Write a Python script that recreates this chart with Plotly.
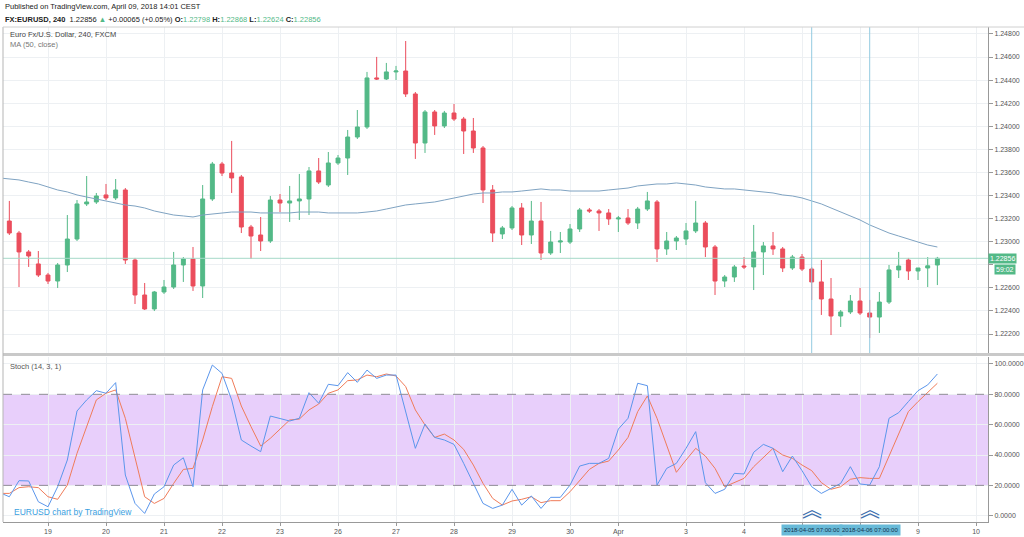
import plotly.graph_objects as go

# ---------------- data ----------------
opens = [1.23179, 1.23075, 1.22911, 1.22807, 1.22711, 1.22659, 1.22798, 1.23023, 1.23327, 1.23344,
         1.23405, 1.23379, 1.23448, 1.22841, 1.22538, 1.22417, 1.22564, 1.22607, 1.22798, 1.22850,
         1.22616, 1.23370, 1.23673, 1.23595, 1.23561, 1.23127, 1.23058, 1.23006, 1.23361, 1.23335,
         1.23353, 1.23370, 1.23613, 1.23491, 1.23682, 1.23725, 1.23907, 1.23994, 1.24419, 1.24410,
         1.24471, 1.24479, 1.24280, 1.23855, 1.24124, 1.24003, 1.24115, 1.24063, 1.23959, 1.23812,
         1.23448, 1.23067, 1.23119, 1.23292, 1.23058, 1.23179, 1.22902, 1.22997, 1.22997, 1.23110,
         1.23275, 1.23266, 1.23249, 1.23197, 1.23205, 1.23162, 1.23283, 1.23344, 1.22937, 1.23006,
         1.23023, 1.23093, 1.23162, 1.22954, 1.22659, 1.22694, 1.22789, 1.22781, 1.22911, 1.22963,
         1.22937, 1.22772, 1.22867, 1.22763, 1.22651, 1.22503, 1.22356, 1.22391, 1.22486, 1.22382,
         1.22347, 1.22477, 1.22755, 1.22841, 1.22746, 1.22772, 1.22798]
highs = [1.23353, 1.23093, 1.22928, 1.22919, 1.22729, 1.22815, 1.23231, 1.23361, 1.23569, 1.23422,
         1.23500, 1.23543, 1.23465, 1.22859, 1.22642, 1.22573, 1.22668, 1.22911, 1.22867, 1.22954,
         1.23491, 1.23691, 1.23691, 1.23873, 1.23578, 1.23145, 1.23214, 1.23396, 1.23413, 1.23483,
         1.23587, 1.23647, 1.23725, 1.23777, 1.23751, 1.23968, 1.24141, 1.24471, 1.24601, 1.24549,
         1.24523, 1.24739, 1.24297, 1.24141, 1.24141, 1.24133, 1.24193, 1.24081, 1.24072, 1.23829,
         1.23491, 1.23136, 1.23309, 1.23335, 1.23353, 1.23344, 1.23093, 1.23084, 1.23153, 1.23292,
         1.23292, 1.23283, 1.23283, 1.23223, 1.23283, 1.23301, 1.23431, 1.23361, 1.23084, 1.23049,
         1.23162, 1.23353, 1.23179, 1.22971, 1.22711, 1.22798, 1.22867, 1.23145, 1.22997, 1.23084,
         1.22954, 1.22885, 1.22893, 1.22781, 1.22841, 1.22685, 1.22408, 1.22538, 1.22599, 1.22495,
         1.22564, 1.22798, 1.22911, 1.22859, 1.22763, 1.22867, 1.22868]
lows = [1.23058, 1.22607, 1.22781, 1.22694, 1.22633, 1.22599, 1.22737, 1.23006, 1.23309, 1.23327,
        1.23361, 1.23361, 1.22807, 1.22460, 1.22408, 1.22399, 1.22547, 1.22590, 1.22651, 1.22573,
        1.22512, 1.23353, 1.23569, 1.23422, 1.23075, 1.22850, 1.22919, 1.22989, 1.23257, 1.23171,
        1.23188, 1.23231, 1.23500, 1.23474, 1.23665, 1.23578, 1.23890, 1.23977, 1.24401, 1.24401,
        1.24401, 1.24254, 1.23717, 1.23769, 1.23925, 1.23985, 1.24046, 1.23760, 1.23769, 1.23335,
        1.22997, 1.23023, 1.23101, 1.22971, 1.22980, 1.22841, 1.22885, 1.22902, 1.22980, 1.23084,
        1.23249, 1.23093, 1.23145, 1.23084, 1.23145, 1.23110, 1.23266, 1.22824, 1.22885, 1.22928,
        1.22971, 1.23075, 1.22867, 1.22538, 1.22607, 1.22651, 1.22763, 1.22581, 1.22711, 1.22885,
        1.22737, 1.22755, 1.22746, 1.22495, 1.22365, 1.22191, 1.22261, 1.22373, 1.22365, 1.22165,
        1.22209, 1.22460, 1.22685, 1.22668, 1.22668, 1.22607, 1.22624]
closes = [1.23075, 1.22911, 1.22876, 1.22711, 1.22659, 1.22798, 1.23023, 1.23327, 1.23344, 1.23396,
          1.23379, 1.23448, 1.22841, 1.22538, 1.22417, 1.22564, 1.22607, 1.22798, 1.22850, 1.22616,
          1.23370, 1.23673, 1.23595, 1.23552, 1.23127, 1.23049, 1.23006, 1.23361, 1.23335, 1.23353,
          1.23370, 1.23613, 1.23517, 1.23682, 1.23725, 1.23907, 1.23994, 1.24419, 1.24410, 1.24471,
          1.24479, 1.24280, 1.23855, 1.24124, 1.24003, 1.24115, 1.24063, 1.23959, 1.23812, 1.23448,
          1.23075, 1.23119, 1.23292, 1.23058, 1.23179, 1.22902, 1.22997, 1.23006, 1.23110, 1.23275,
          1.23266, 1.23249, 1.23197, 1.23205, 1.23162, 1.23283, 1.23353, 1.22937, 1.23006, 1.23032,
          1.23093, 1.23162, 1.22954, 1.22659, 1.22694, 1.22781, 1.22781, 1.22911, 1.22963, 1.22937,
          1.22772, 1.22867, 1.22763, 1.22651, 1.22503, 1.22356, 1.22391, 1.22486, 1.22382, 1.22347,
          1.22477, 1.22755, 1.22789, 1.22746, 1.22772, 1.22791, 1.22856]

# MA(50, close), one bar before the first visible candle included (bar index -1 .. 96)
ma50 = [1.23552, 1.23543, 1.23535, 1.23517, 1.23500, 1.23474, 1.23448, 1.23431, 1.23405, 1.23387,
        1.23370, 1.23353, 1.23335, 1.23318, 1.23309, 1.23292, 1.23266, 1.23249, 1.23231, 1.23223,
        1.23214, 1.23231, 1.23240, 1.23249, 1.23257, 1.23257, 1.23257, 1.23249, 1.23249, 1.23249,
        1.23249, 1.23257, 1.23257, 1.23257, 1.23249, 1.23249, 1.23249, 1.23249, 1.23257, 1.23266,
        1.23283, 1.23301, 1.23318, 1.23327, 1.23335, 1.23344, 1.23361, 1.23379, 1.23396, 1.23413,
        1.23422, 1.23422, 1.23431, 1.23431, 1.23439, 1.23448, 1.23457, 1.23448, 1.23448, 1.23439,
        1.23439, 1.23439, 1.23439, 1.23448, 1.23457, 1.23465, 1.23483, 1.23491, 1.23500, 1.23500,
        1.23509, 1.23500, 1.23491, 1.23474, 1.23465, 1.23457, 1.23457, 1.23448, 1.23439, 1.23431,
        1.23422, 1.23405, 1.23396, 1.23379, 1.23353, 1.23327, 1.23292, 1.23257, 1.23223, 1.23188,
        1.23145, 1.23110, 1.23075, 1.23049, 1.23023, 1.22997, 1.22971, 1.22954]

# Stoch (14, 3, 1): %K and %D, bar index -1 .. 96
stoch_k = [15.2, 12.5, 23.1, 22.9, 9.2, 5.9, 19.1, 36.7, 69.0, 76.3, 82.4, 80.7, 87.7, 26.8, 8.1, 1.5,
           14.3, 19.1, 33.4, 38.2, 19.1, 82.9, 99.3, 93.8, 76.3, 49.9, 45.9, 42.2, 65.7, 64.2, 62.4,
           64.2, 81.1, 74.1, 86.6, 85.7, 94.3, 87.9, 96.0, 90.5, 92.7, 92.7, 68.6, 44.4, 60.4, 51.6,
           49.9, 47.0, 34.5, 21.3, 8.1, 4.8, 7.0, 17.4, 7.0, 13.0, 4.8, 12.1, 12.1, 20.2, 32.7, 34.5,
           34.5, 37.8, 57.1, 64.2, 87.3, 85.7, 20.2, 31.2, 34.5, 44.4, 55.4, 21.8, 14.7, 17.4, 27.9,
           27.5, 41.8, 47.0, 44.4, 29.0, 39.3, 29.7, 19.1, 14.7, 18.0, 21.3, 32.3, 20.9, 20.2, 32.3,
           64.2, 67.9, 75.2, 82.4, 86.2, 93.4]
stoch_d = [14.7, 14.7, 18.5, 19.1, 18.5, 12.5, 10.8, 20.2, 41.1, 59.1, 76.3, 80.7, 82.9, 64.2, 37.8,
           12.5, 8.1, 11.4, 21.3, 30.5, 31.2, 49.9, 71.9, 91.6, 90.5, 72.3, 58.7, 45.9, 51.0, 56.9,
           63.1, 63.7, 69.7, 73.6, 80.7, 82.9, 89.0, 89.5, 92.7, 91.6, 93.4, 92.1, 85.1, 69.7, 59.8,
           51.6, 53.8, 49.9, 43.7, 33.4, 21.3, 11.4, 7.0, 9.7, 10.8, 12.5, 8.6, 9.9, 9.9, 15.8, 23.5,
           30.5, 34.5, 36.0, 43.3, 51.6, 68.6, 78.9, 64.2, 46.6, 28.6, 36.7, 44.4, 39.3, 31.2, 19.1,
           21.8, 24.6, 32.3, 38.5, 44.4, 40.0, 37.8, 33.4, 29.7, 21.8, 17.4, 19.1, 24.0, 25.1, 24.6,
           24.6, 39.3, 53.8, 68.6, 75.2, 81.1, 87.3]

day_idx = [4, 10, 16, 22, 28, 34, 40, 46, 52, 58, 63, 70, 76, 82, 88, 94, 100]
day_lbl = ['19', '20', '21', '22', '23', '26', '27', '28', '29', '30', 'Apr', '3', '4', '5', '6', '9', '10']
price_ticks = [1.222, 1.224, 1.226, 1.228, 1.230, 1.232, 1.234, 1.236, 1.238, 1.240, 1.242, 1.244, 1.246, 1.248]
stoch_ticks = [0, 20, 40, 60, 80, 100]
band_lo, band_hi = 20, 80
cursor_idx = [83, 89]
cursor_lbl = ['2018-04-05 07:00:00', '2018-04-06 07:00:00']
countdown = '59:02'

# ---------------- figure ----------------
W, H = 1024, 537
GREEN, RED = '#53b987', '#eb4d5c'
FONT = 'Liberation Sans'

def px(x):
    return x / W

def py(y):
    return 1 - y / H

n = len(closes)
xs = list(range(n))
xs_ind = list(range(-1, n))

# labels hidden behind the cursor date boxes / last-price box, as in the original
tick_text = [('' if any(abs(d - c) <= 3 for c in cursor_idx) else t) for d, t in zip(day_idx, day_lbl)]
price_text = [('' if abs(p - closes[-1]) < 0.001 else '%.5f' % p) for p in price_ticks]

fig = go.Figure()
fig.add_trace(go.Candlestick(
    x=xs, open=opens, high=highs, low=lows, close=closes,
    increasing=dict(line=dict(color=GREEN, width=1), fillcolor=GREEN),
    decreasing=dict(line=dict(color=RED, width=1), fillcolor=RED),
    whiskerwidth=0, xaxis='x', yaxis='y', showlegend=False, hoverinfo='skip'))
fig.add_trace(go.Scatter(x=xs_ind, y=ma50, mode='lines', line=dict(color='#7fa3c2', width=1),
                         xaxis='x', yaxis='y', showlegend=False, hoverinfo='skip'))
fig.add_trace(go.Scatter(x=xs_ind, y=stoch_d, mode='lines', line=dict(color='#f07c5a', width=1),
                         xaxis='x2', yaxis='y2', showlegend=False, hoverinfo='skip'))
fig.add_trace(go.Scatter(x=xs_ind, y=stoch_k, mode='lines', line=dict(color='#5b96ec', width=1),
                         xaxis='x2', yaxis='y2', showlegend=False, hoverinfo='skip'))

XD = [px(3), px(988)]
main_dom = [py(353), py(27)]
st_dom = [py(522), py(357)]
k = 0.002 / 23.08
y_top = 1.222 + (334 - 27) * k
y_bot = 1.222 - (353 - 334) * k
xr = [(3 - 48) / 9.667 + 4, (988 - 48) / 9.667 + 4]
GRID = '#edf0f3'

fig.update_layout(
    width=W, height=H, margin=dict(l=0, r=0, t=0, b=0),
    paper_bgcolor='white', plot_bgcolor='white',
    font=dict(family=FONT, size=7, color='#555'),
    boxgap=0.42,
    xaxis=dict(domain=XD, range=xr, anchor='y', showticklabels=False, tickvals=day_idx,
               showgrid=True, gridcolor=GRID, zeroline=False, rangeslider=dict(visible=False),
               fixedrange=True),
    yaxis=dict(domain=main_dom, range=[y_bot, y_top], side='right', anchor='x',
               tickvals=price_ticks, ticktext=price_text, ticks='outside', ticklen=4, tickcolor='#999',
               showline=True, linecolor='#999', linewidth=1, showgrid=True, gridcolor=GRID,
               zeroline=False, tickfont=dict(size=7, color='#555')),
    xaxis2=dict(domain=XD, range=xr, anchor='y2', tickvals=day_idx, ticktext=tick_text,
                ticks='outside', ticklen=3, tickcolor='#999', showgrid=True, gridcolor=GRID,
                zeroline=False, showline=True, linecolor='#999', tickfont=dict(size=7, color='#555')),
    yaxis2=dict(domain=st_dom, range=[-4.15, 104.6], side='right', anchor='x2',
                tickvals=stoch_ticks, tickformat='.4f', ticks='outside', ticklen=4, tickcolor='#999',
                showline=True, linecolor='#999', showgrid=True, gridcolor=GRID, zeroline=False,
                tickfont=dict(size=7, color='#555')),
)

shapes = []
# stoch band
shapes.append(dict(type='rect', xref='x2 domain', yref='y2', x0=0, x1=1, y0=band_lo, y1=band_hi,
                   fillcolor='#e8cffb', line=dict(width=0), layer='below'))
for lv in (band_lo, band_hi):
    shapes.append(dict(type='line', xref='x2 domain', yref='y2', x0=0, x1=1, y0=lv, y1=lv,
                       line=dict(color='#8f8a96', width=1, dash='dash')))
# last price line
shapes.append(dict(type='line', xref='x domain', yref='y', x0=0, x1=1, y0=closes[-1], y1=closes[-1],
                   line=dict(color='#a6d9c8', width=1)))
# cursor lines
for ci in cursor_idx:
    shapes.append(dict(type='line', xref='x', yref='y domain', x0=ci, x1=ci, y0=0, y1=1,
                       line=dict(color='#93cbe0', width=1)))
# frame
shapes.append(dict(type='line', xref='paper', yref='paper', x0=px(3), x1=1, y0=py(354.5), y1=py(354.5),
                   line=dict(color='#c9c9c9', width=3)))
shapes.append(dict(type='line', xref='paper', yref='paper', x0=px(3), x1=px(3), y0=py(522), y1=py(27),
                   line=dict(color='#b5b5b5', width=1)))
shapes.append(dict(type='line', xref='paper', yref='paper', x0=px(3), x1=1, y0=py(27), y1=py(27),
                   line=dict(color='#d0d0d0', width=1)))
fig.update_layout(shapes=shapes)

chg = closes[-1] - closes[-2]
pct = chg / closes[-2] * 100
g = "<span style='color:%s'>" % GREEN
line2 = ("<b>FX:EURUSD, 240</b>  %.5f %s▲</span> %+.5f (%+.2f%%) <b>O:</b>%s%.5f</span> "
         "<b>H:</b>%s%.5f</span> <b>L:</b>%s%.5f</span> <b>C:</b>%s%.5f</span>") % (
    closes[-1], g, chg, pct, g, opens[-1], g, highs[-1], g, lows[-1], g, closes[-1])

ann = []
def txt(x, y, s, size=7, color='#333', **kw):
    d = dict(xref='paper', yref='paper', x=px(x), y=py(y), text=s, showarrow=False,
             xanchor='left', yanchor='middle', font=dict(family=FONT, size=size, color=color))
    d.update(kw)
    ann.append(d)

txt(3, 6.5, 'Published on TradingView.com, April 09, 2018 14:01 CEST', 7.5, '#222')
txt(3, 19, line2, 7.5, '#222')
txt(8, 34, 'Euro Fx/U.S. Dollar, 240, FXCM', 7.5, '#444')
txt(8, 44, 'MA (50, close)', 7.5, '#777')
txt(8, 366, 'Stoch (14, 3, 1)', 7.5, '#555')
txt(12, 512, 'EURUSD chart by TradingView', 8.5, '#3aa0e0')

# last price labels
ann.append(dict(xref='paper', yref='y', x=px(988), y=closes[-1], text='%.5f' % closes[-1],
                showarrow=False, xanchor='left', yanchor='middle', bgcolor=GREEN, borderpad=1,
                font=dict(family=FONT, size=7, color='white')))
ann.append(dict(xref='paper', yref='y', x=px(1016), y=closes[-1], yshift=-11, text=countdown,
                showarrow=False, xanchor='right', yanchor='middle', bgcolor=GREEN, borderpad=1,
                font=dict(family=FONT, size=7, color='white')))
# cursor markers and date labels
for ci, lb in zip(cursor_idx, cursor_lbl):
    ann.append(dict(xref='x2', yref='y2', x=ci, y=5, text='︽', showarrow=False,
                    xanchor='center', yanchor='middle',
                    font=dict(family='Noto Sans CJK SC', size=20, color='#3f6fae')))
    ann.append(dict(xref='x2', yref='paper', x=ci, y=py(530), text=lb, showarrow=False,
                    xanchor='center', yanchor='middle', bgcolor='#68bad8', borderpad=2,
                    font=dict(family=FONT, size=6, color='#12304c')))
fig.update_layout(annotations=ann)

fig.write_html('out.html', config={'displayModeBar': False},
               post_script="document.body.style.margin='0';document.body.style.overflow='hidden';")
